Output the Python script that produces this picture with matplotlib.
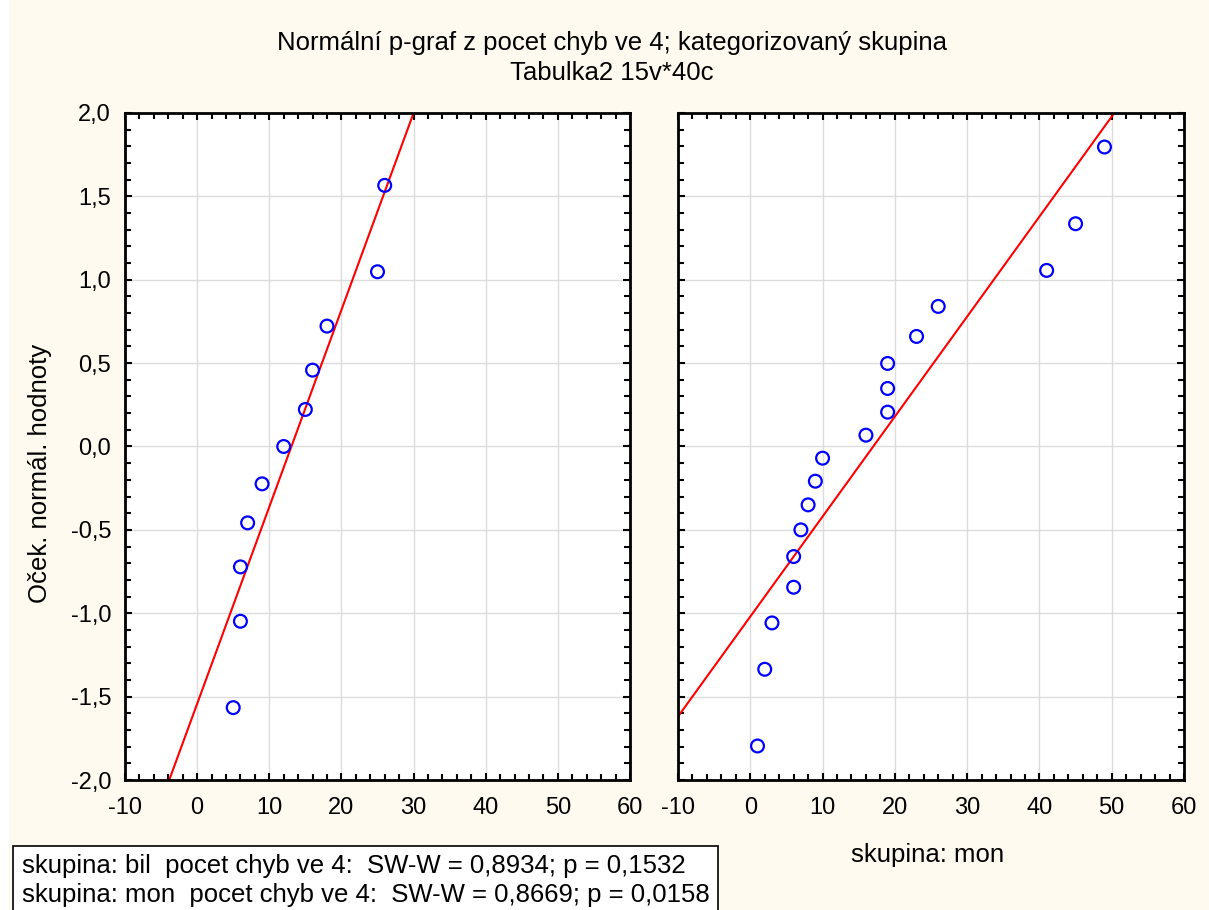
import matplotlib
matplotlib.use("Agg")
import matplotlib.pyplot as plt
from matplotlib.ticker import MultipleLocator, FuncFormatter
from matplotlib.patches import Rectangle

plt.rcParams["font.family"] = ["Liberation Sans", "DejaVu Sans"]
plt.rcParams["axes.unicode_minus"] = False

# skupina: bil
bil_x = [5, 6, 6, 7, 9, 12, 15, 16, 18, 25, 26]
bil_y = [-1.566, -1.048, -0.722, -0.458, -0.224, 0.0, 0.222, 0.458, 0.722, 1.048, 1.566]
bil_line = (-1.543, 0.1181)  # intercept, slope

# skupina: mon
mon_x = [1, 2, 3, 6, 6, 7, 8, 9, 10, 16, 19, 19, 19, 23, 26, 41, 45, 49]
mon_y = [-1.796, -1.336, -1.058, -0.844, -0.66, -0.5, -0.35, -0.208, -0.07,
         0.068, 0.206, 0.348, 0.498, 0.66, 0.84, 1.056, 1.336, 1.796]
mon_line = (-1.020, 0.05997)

title1 = "Normální p-graf z pocet chyb ve 4; kategorizovaný skupina"
title2 = "Tabulka2 15v*40c"
ylabel = "Oček. normál. hodnoty"
stats = ["skupina: bil  pocet chyb ve 4:  SW-W = 0,8934; p = 0,1532",
         "skupina: mon  pocet chyb ve 4:  SW-W = 0,8669; p = 0,0158"]

FS = 18.5   # labels / titles
TFS = 17    # tick labels
bg = "#fffaef"

fig = plt.figure(figsize=(12.09, 9.10), dpi=100, facecolor=bg)
fig.patches.append(Rectangle((0, 0), 9 / 1209, 1, transform=fig.transFigure,
                             facecolor="white", edgecolor="none", zorder=0))

comma = FuncFormatter(lambda v, p: f"{v:.1f}".replace(".", ","))


def panel(rect, xs, ys, line, show_ylabels):
    ax = fig.add_axes(rect)
    ax.set_xlim(-10, 60)
    ax.set_ylim(-2, 2)
    ax.xaxis.set_major_locator(MultipleLocator(10))
    ax.xaxis.set_minor_locator(MultipleLocator(2))
    ax.yaxis.set_major_locator(MultipleLocator(0.5))
    ax.yaxis.set_minor_locator(MultipleLocator(0.1))
    ax.yaxis.set_major_formatter(comma)
    ax.grid(True, which="major", color="#dcdcdc", linewidth=1.0, zorder=0)
    ax.tick_params(which="both", direction="in", top=True, right=True,
                   width=1.5, labelsize=TFS)
    ax.tick_params(axis="x", pad=12)
    ax.tick_params(axis="y", pad=10)
    ax.tick_params(which="major", length=5)
    ax.tick_params(which="minor", length=4)
    if not show_ylabels:
        ax.tick_params(labelleft=False)
    for s in ax.spines.values():
        s.set_linewidth(2)
    a, b = line
    lx = [-10, 60]
    ax.plot(lx, [a + b * v for v in lx], color="red", linewidth=1.5, zorder=2)
    ax.scatter(xs, ys, s=85, facecolors="none", edgecolors="#0000ff",
               linewidths=1.6, zorder=3)
    return ax


ax1 = panel([125 / 1209, 1 - 780 / 910, 505 / 1209, 667 / 910], bil_x, bil_y, bil_line, True)
ax2 = panel([678 / 1209, 1 - 780 / 910, 506 / 1209, 667 / 910], mon_x, mon_y, mon_line, False)

fig.text(0.506, 1 - 43 / 910, title1, ha="center", va="center", fontsize=FS)
fig.text(0.506, 1 - 73 / 910, title2, ha="center", va="center", fontsize=FS)
fig.text(40 / 1209, 1 - 473 / 910, ylabel, rotation=90, ha="center", va="center", fontsize=FS)
fig.text(928 / 1209, 1 - 855 / 910, "skupina: mon", ha="center", va="center", fontsize=FS)
# left x label sits behind the stats box, as in the original export
fig.text(377 / 1209, 1 - 858 / 910, "skupina: bil", ha="center", va="center", fontsize=FS, zorder=1)

fig.patches.append(Rectangle((13 / 1209, -0.01), 705 / 1209, (910 - 846) / 910 + 0.01,
                             transform=fig.transFigure, facecolor="white",
                             edgecolor="black", linewidth=1.2, zorder=5))
fig.text(22 / 1209, 1 - 866 / 910, stats[0], ha="left", va="center", fontsize=FS, zorder=6)
fig.text(22 / 1209, 1 - 895 / 910, stats[1], ha="left", va="center", fontsize=FS, zorder=6)

fig.savefig("out.png", dpi=100, facecolor=bg)
